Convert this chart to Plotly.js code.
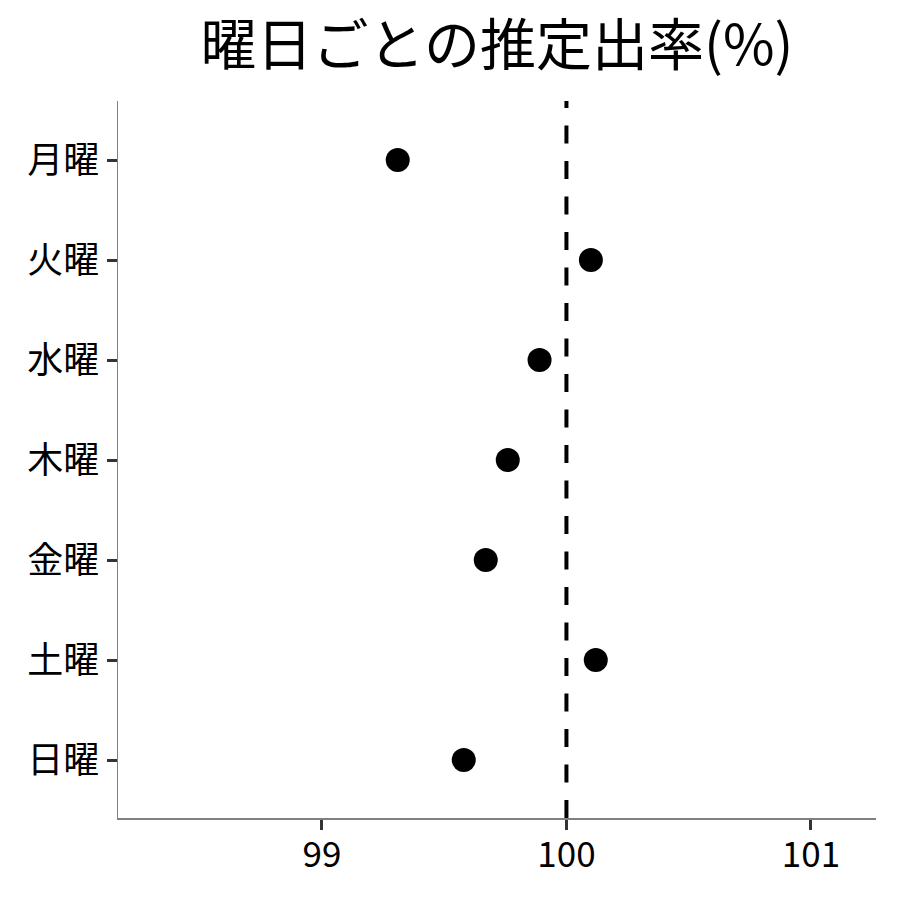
<!DOCTYPE html>
<html>
<head>
<meta charset="utf-8">
<script src="https://cdn.plot.ly/plotly-3.0.1.min.js"></script>
<style>html,body{margin:0;padding:0;background:#fff;}</style>
</head>
<body>
<div id="chart" style="width:900px;height:900px;"></div>
<script>
const days = ["月曜", "火曜", "水曜", "木曜", "金曜", "土曜", "日曜"];
const rates = [99.31, 100.10, 99.89, 99.76, 99.67, 100.12, 99.58];
const refValue = 100;
const xTicks = [99, 100, 101];

const font = '"Noto Sans CJK JP", "Noto Sans", sans-serif';

const trace = {
  type: 'scatter',
  mode: 'markers',
  x: rates,
  y: days,
  marker: {color: '#000000', size: 24},
  hoverinfo: 'x+y'
};

const layout = {
  width: 900,
  height: 900,
  paper_bgcolor: '#ffffff',
  plot_bgcolor: '#ffffff',
  margin: {l: 118, r: 24, t: 101, b: 82},
  showlegend: false,
  font: {family: font, color: '#000000'},
  title: {
    text: '曜日ごとの推定出率(%)',
    font: {family: font, size: 56, color: '#000000'},
    x: 0.5, xref: 'paper', xanchor: 'center',
    y: 0.95, yref: 'container', yanchor: 'middle'
  },
  xaxis: {
    range: [98.166, 101.266],
    tickvals: xTicks,
    ticktext: xTicks.map(String),
    showgrid: false,
    zeroline: false,
    showline: true,
    linecolor: '#808080',
    linewidth: 1.5,
    ticks: 'outside',
    ticklen: 10,
    tickwidth: 3,
    tickcolor: '#333333',
    ticklabelstandoff: -5,
    tickfont: {family: font, size: 35, color: '#000000'}
  },
  yaxis: {
    type: 'category',
    categoryorder: 'array',
    categoryarray: days,
    range: [6.58, -0.59],
    showgrid: false,
    zeroline: false,
    showline: true,
    linecolor: '#808080',
    linewidth: 1.5,
    ticks: 'outside',
    ticklen: 10,
    tickwidth: 3,
    tickcolor: '#333333',
    tickfont: {family: font, size: 36, color: '#000000'}
  },
  shapes: [{
    type: 'line',
    xref: 'x', yref: 'paper',
    x0: refValue, x1: refValue, y0: 0, y1: 1,
    line: {color: '#000000', width: 4, dash: '18px,17.5px'},
    layer: 'below'
  }]
};

Plotly.newPlot('chart', [trace], layout, {displayModeBar: false, staticPlot: true});
</script>
</body>
</html>
